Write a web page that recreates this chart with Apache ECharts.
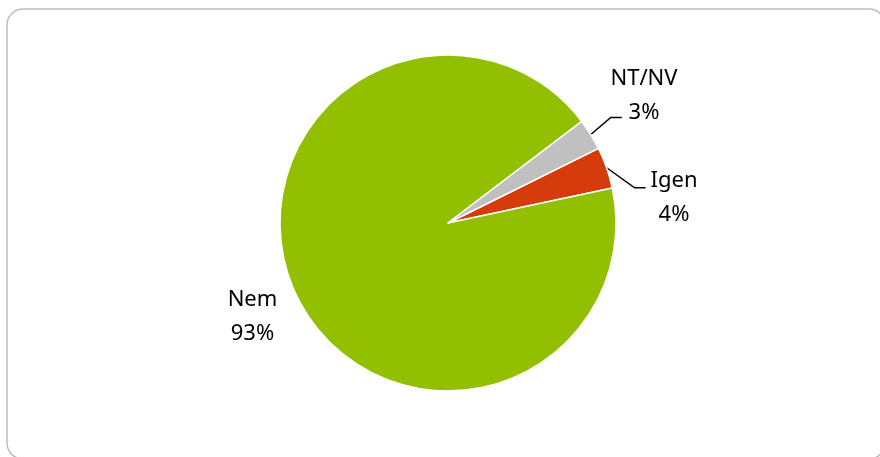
<!DOCTYPE html>
<html>
<head>
<meta charset="utf-8">
<title>Igen / Nem / NT/NV</title>
<script src="https://cdn.jsdelivr.net/npm/echarts@6/dist/echarts.min.js"></script>
<style>
  html, body { margin: 0; padding: 0; background: #ffffff; }
  #chart { width: 880px; height: 457px; }
</style>
</head>
<body>
<div id="chart"></div>
<script>
// Answer shares (percent)
const categories = ['Igen', 'Nem', 'NT/NV'];
const values = [4, 93, 3];
const sliceColors = ['#D63C0B', '#92C000', '#C0C0C0'];

// Where each two-line label sits and how its leader line bends
const labelPlacement = {
  'Igen':  { x: 674,   y: 198,  bend: [28, 20],  tail: 11 },
  'Nem':   { x: 252.5, y: 317 },
  'NT/NV': { x: 644,   y: 95.5, bend: [20, -17], tail: 11 }
};

const chart = echarts.init(document.getElementById('chart'), null, { renderer: 'canvas' });

const seriesData = categories.map(function (name, i) {
  const item = { name: name, value: values[i], itemStyle: { color: sliceColors[i] } };
  if (!labelPlacement[name].bend) {
    item.labelLine = { show: false };
  }
  return item;
});

chart.setOption({
  animation: false,
  backgroundColor: '#ffffff',
  graphic: [{
    type: 'rect',
    z: 0,
    silent: true,
    shape: { x: 7, y: 9, width: 878, height: 450, r: 16 },
    style: { fill: '#ffffff', stroke: '#BDBDBD', lineWidth: 1.5 }
  }],
  series: [{
    type: 'pie',
    z: 2,
    center: [448, 223],
    radius: 168,
    startAngle: 26.4,
    clockwise: true,
    avoidLabelOverlap: false,
    data: seriesData,
    itemStyle: { borderColor: '#ffffff', borderWidth: 1.5 },
    label: {
      show: true,
      position: 'outside',
      formatter: '{b}\n{d}%',
      fontFamily: 'Noto Sans',
      fontSize: 22,
      lineHeight: 34,
      color: '#000000',
      align: 'center'
    },
    labelLine: {
      show: true,
      length: 20,
      length2: 11,
      lineStyle: { color: '#000000', width: 1.5 }
    },
    labelLayout: function (params) {
      const spot = labelPlacement[categories[params.dataIndex]];
      const out = { x: spot.x, y: spot.y, align: 'center', verticalAlign: 'middle' };
      const pts = params.labelLinePoints;
      if (spot.bend && pts && pts.length) {
        const s = pts[0];
        const e = [s[0] + spot.bend[0], s[1] + spot.bend[1]];
        out.labelLinePoints = [[s[0], s[1]], e, [e[0] + spot.tail, e[1]]];
      }
      return out;
    }
  }]
});
</script>
</body>
</html>
